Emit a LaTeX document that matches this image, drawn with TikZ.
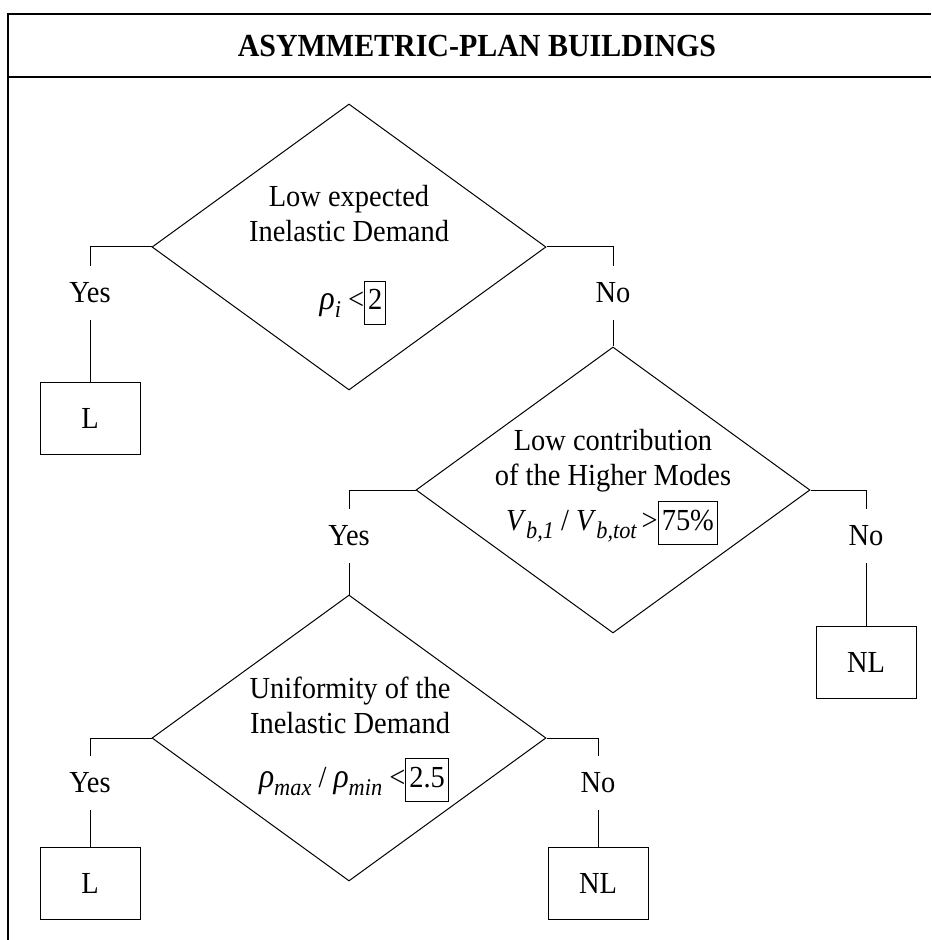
\documentclass[tikz,border=0pt]{standalone}
\usepackage{fontspec}
\setmainfont{Liberation Serif}[FakeStretch=0.93]
\usetikzlibrary{shapes.geometric}
\newcommand{\sbx}[1]{\raisebox{-4pt}{\fontsize{12pt}{13pt}\selectfont\itshape #1}}
\newcommand{\rh}{{\fontsize{17pt}{18pt}\selectfont\itshape ρ}}
\newcommand{\bxn}[1]{{\setlength{\fboxsep}{1.5pt}\setlength{\fboxrule}{0.5pt}\fbox{\strut #1}}}
\begin{document}
\begin{tikzpicture}[x=0.5pt,y=-0.5pt,
  every node/.style={font=\fontsize{15.3pt}{18pt}\selectfont},
  dia/.style={draw, diamond, minimum width=197pt, minimum height=143pt, inner sep=0pt, line width=0.5pt},
  res/.style={draw, rectangle, minimum width=50pt, minimum height=36pt, inner sep=0pt, line width=0.5pt},
  lbl/.style={minimum height=26.5pt, inner sep=0pt},
  txt/.style={anchor=base, inner sep=0pt},
  conn/.style={line width=0.5pt},
  frame/.style={line width=0.75pt}]
\useasboundingbox (0,0) rectangle (931,940);
% frame
\coordinate (ftl) at (8,14);
\coordinate (ftr) at (931,14);
\coordinate (fbl) at (8,940);
\coordinate (sl) at (8,77);
\coordinate (sr) at (931,77);
\draw[frame] (ftr) -- (ftl) -- (fbl);
\draw[frame] (sl) -- (sr);
\node[font=\fontsize{16.1pt}{19pt}\selectfont\bfseries] (title) at (477,46.5) {ASYMMETRIC-PLAN BUILDINGS};
% diamonds
\node[dia] (d1) at (349,247) {};
\node[dia] (d2) at (613,490) {};
\node[dia] (d3) at (349,738) {};
% diamond texts
\node[txt] (t1a) at (349,207) {Low expected};
\node[txt] (t1b) at (349,242) {Inelastic Demand};
\node[txt] (f1) at (353,310) {\rh\sbx{i} <\bxn{2}};
\node[txt] (t2a) at (613,450) {Low contribution};
\node[txt] (t2b) at (613,485) {of the Higher Modes};
\node[txt] (f2) at (612,530) {\textit{V}\sbx{b,1} / \textit{V}\sbx{b,tot}\,>\bxn{75\%}};
\node[txt] (t3a) at (350,698) {Uniformity of the};
\node[txt] (t3b) at (350,733) {Inelastic Demand};
\node[txt] (f3) at (354,787) {\rh\sbx{max} / \rh\sbx{min} <\bxn{2.5}};
% labels
\node[lbl] (y1) at (90,293) {Yes};
\node[lbl] (n1) at (613,293) {No};
\node[lbl] (y2) at (349,536) {Yes};
\node[lbl] (n2) at (866,536) {No};
\node[lbl] (y3) at (90,783) {Yes};
\node[lbl] (n3) at (598,783) {No};
% results
\node[res] (L1) at (90,418) {L};
\node[res] (NL2) at (866,662) {NL};
\node[res] (L3) at (90,883) {L};
\node[res] (NL3) at (598,883) {NL};
% connectors
\draw[conn] (d1.west) -| (y1.north);
\draw[conn] (y1.south) -- (L1.north);
\draw[conn] (d1.east) -| (n1.north);
\draw[conn] (n1.south) -- (d2.north);
\draw[conn] (d2.west) -| (y2.north);
\draw[conn] (y2.south) -- (d3.north);
\draw[conn] (d2.east) -| (n2.north);
\draw[conn] (n2.south) -- (NL2.north);
\draw[conn] (d3.west) -| (y3.north);
\draw[conn] (y3.south) -- (L3.north);
\draw[conn] (d3.east) -| (n3.north);
\draw[conn] (n3.south) -- (NL3.north);
\end{tikzpicture}
\end{document}
